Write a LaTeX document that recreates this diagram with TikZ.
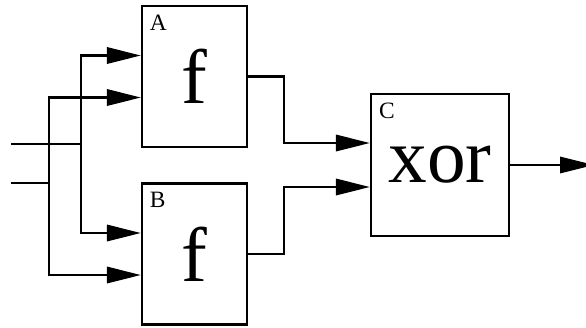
\documentclass[tikz,border=0pt]{standalone}
\usepackage{fontspec}
\setmainfont{Liberation Serif}
\usetikzlibrary{arrows.meta,calc}

\begin{document}
\begin{tikzpicture}[x=0.03cm,y=-0.03cm,line width=1.9pt,>={Triangle[length=10.2mm,width=4.9mm]},
  block/.style={draw,inner sep=0pt,minimum width=3.15cm,minimum height=4.23cm,font=\fontsize{66}{66}\selectfont},
  tag/.style={anchor=north west,inner sep=0pt,font=\fontsize{20}{20}\selectfont}]
\useasboundingbox (0,0) rectangle (586,327);
\node[block] (A) at (194.5,76.5) {f};
\node[block] (B) at (194.5,254) {f};
\node[block,minimum width=4.14cm,minimum height=4.26cm] (C) at (440,165) {xor};
\node[tag] (A_tag) at ($(A.north west)+(8,9)$) {A};
\node[tag] (B_tag) at ($(B.north west)+(8,9)$) {B};
\node[tag] (C_tag) at ($(C.north west)+(8,9)$) {C};
\coordinate (in1) at (11,144);
\coordinate (in2) at (11,183);
\coordinate (j1) at (81,144);
\coordinate (j2) at (49,183);
\coordinate (out) at (594,165);
\draw (in1) -- (j1);
\draw (in2) -- (j2);
\draw[->] (j1) |- ($(A.west)+(0,-21)$);
\draw[->] (j1) |- ($(B.west)+(0,-21)$);
\draw[->] (j2) |- ($(A.west)+(0,21)$);
\draw[->] (j2) |- ($(B.west)+(0,21)$);
\draw[->] (A.east) -- ++(36,0) |- ($(C.west)+(0,-22)$);
\draw[->] (B.east) -- ++(36,0) |- ($(C.west)+(0,22)$);
\draw[->] (C.east) -- (out);
\end{tikzpicture}
\end{document}
